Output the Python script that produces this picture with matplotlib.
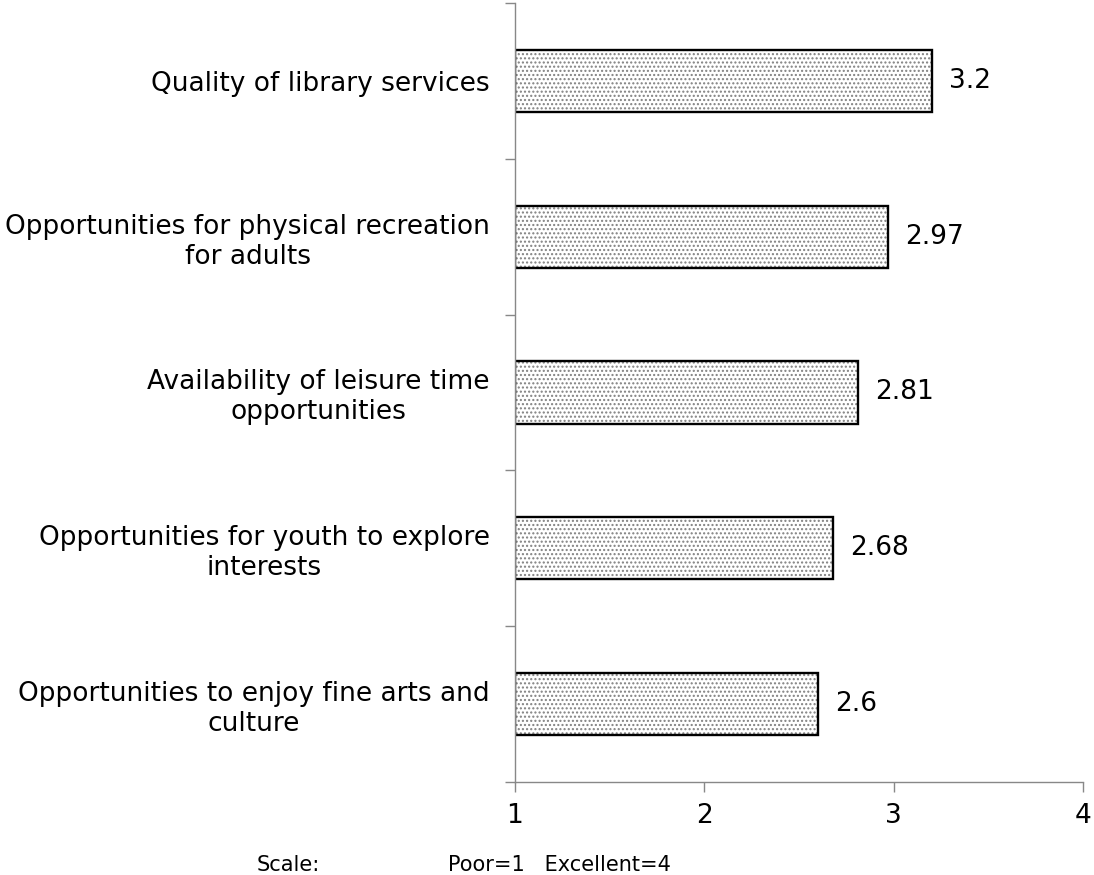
import numpy as np
import matplotlib.pyplot as plt

categories = ["Quality of library services",
              "Opportunities for physical recreation\nfor adults",
              "Availability of leisure time\nopportunities",
              "Opportunities for youth to explore\ninterests",
              "Opportunities to enjoy fine arts and\nculture"]
values = [3.2, 2.97, 2.81, 2.68, 2.6]
value_labels = ["3.2", "2.97", "2.81", "2.68", "2.6"]

plt.rcParams['font.family'] = ['DejaVu Sans']
fig = plt.figure(figsize=(10.94, 8.75), dpi=100)
ax = fig.add_axes([0.4707, 0.1063, 0.5193, 0.8903])

n = len(categories)
y = np.arange(n)[::-1]
widths = np.array(values) - 1

# dotted fill, then black outline on top
ax.barh(y, widths, left=1, height=0.4, color="white", hatch="....",
        edgecolor="#808080", linewidth=0)
ax.barh(y, widths, left=1, height=0.4, color="none", edgecolor="black",
        linewidth=1.7)

for yi, v, lab in zip(y, values, value_labels):
    ax.text(v + 0.09, yi, lab, va="center", ha="left", fontsize=19)

ax.set_xlim(1, 4)
ax.set_ylim(-0.5, n - 0.5)
ax.set_xticks([1, 2, 3, 4])
ax.set_xticklabels(["1", "2", "3", "4"], fontsize=19)
ax.set_yticks(y)
ax.set_yticklabels(categories, fontsize=19, multialignment="center")
ax.set_yticks(np.arange(n + 1) - 0.5, minor=True)
ax.tick_params(axis="y", which="major", length=0, pad=18)
ax.tick_params(axis="y", which="minor", length=7, color="#888888", width=1)
ax.tick_params(axis="x", length=7, color="#888888", width=1, pad=8)

for s in ["top", "right"]:
    ax.spines[s].set_visible(False)
for s in ["left", "bottom"]:
    ax.spines[s].set_color("#888888")
    ax.spines[s].set_linewidth(1)

fig.text(257 / 1094, 1 - 865 / 875, "Scale:", fontsize=15, va="center", ha="left")
fig.text(448 / 1094, 1 - 865 / 875, "Poor=1   Excellent=4", fontsize=15, va="center", ha="left")

fig.savefig("out.png", dpi=100)
